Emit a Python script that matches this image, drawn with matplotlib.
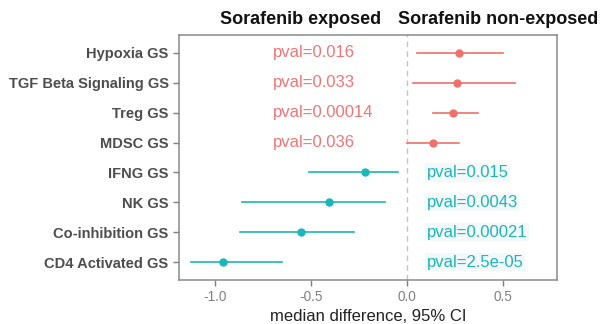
import matplotlib
matplotlib.use("Agg")
import matplotlib.pyplot as plt

plt.rcParams['font.family'] = ['Liberation Sans', 'DejaVu Sans']

# data
genesets = ["Hypoxia GS", "TGF Beta Signaling GS", "Treg GS", "MDSC GS",
            "IFNG GS", "NK GS", "Co-inhibition GS", "CD4 Activated GS"]
median_diff = [0.27, 0.26, 0.24, 0.135, -0.22, -0.41, -0.555, -0.96]
ci_low = [0.05, 0.03, 0.135, 0.0, -0.515, -0.86, -0.87, -1.13]
ci_high = [0.50, 0.56, 0.37, 0.27, -0.05, -0.115, -0.28, -0.655]
pvals = ["0.016", "0.033", "0.00014", "0.036", "0.015", "0.0043", "0.00021", "2.5e-05"]
xticks = [-1.0, -0.5, 0.0, 0.5]

RED = "#F0706A"
TEAL = "#1DB5B8"

fig = plt.figure(figsize=(6.08, 3.24), dpi=100)
ax = fig.add_axes([179 / 608, 1 - 280 / 324, (557 - 179) / 608, (280 - 35) / 324])

n = len(genesets)
ypos = list(range(n, 0, -1))

ax.axvline(0, color="#C4C4C4", linestyle=(0, (4, 3)), linewidth=1.0, zorder=1)

for y, m, lo, hi, p in zip(ypos, median_diff, ci_low, ci_high, pvals):
    col = RED if m > 0 else TEAL
    ax.plot([lo, hi], [y, y], color=col, linewidth=1.2, zorder=2)
    ax.plot(m, y, "o", color=col, markersize=5, zorder=3)
    if m > 0:
        ax.text(-0.70, y, f"pval={p}", color="#EE7676", fontsize=12, ha="left", va="center")
    else:
        ax.text(0.10, y, f"pval={p}", color=TEAL, fontsize=12, ha="left", va="center",
                bbox=dict(boxstyle="square,pad=0.1", facecolor="#F3F9F9", edgecolor="none"))

ax.set_xlim(-1.19, 0.78)
ax.set_ylim(0.4, n + 0.6)
ax.set_xticks(xticks)
ax.set_xticklabels([f"{t:.1f}" for t in xticks], color="#808080", fontsize=9.8)
ax.set_yticks(ypos)
ax.set_yticklabels(genesets, fontsize=10.5, fontweight="bold", color="#4D4D4D")
ax.tick_params(axis="both", color="#7F7F7F", length=4, width=1)
for s in ax.spines.values():
    s.set_color("#8A8A8A")
    s.set_linewidth(1.1)

ax.set_xlabel("median difference, 95% CI", fontsize=12, color="#222222", labelpad=3)

fig.text(301 / 608, 1 - 24 / 324, "Sorafenib exposed", fontsize=13, fontweight="bold",
         ha="center", va="baseline", color="#111111")
fig.text(498 / 608, 1 - 24 / 324, "Sorafenib non-exposed", fontsize=13, fontweight="bold",
         ha="center", va="baseline", color="#111111")

fig.savefig("out.png", dpi=100)
